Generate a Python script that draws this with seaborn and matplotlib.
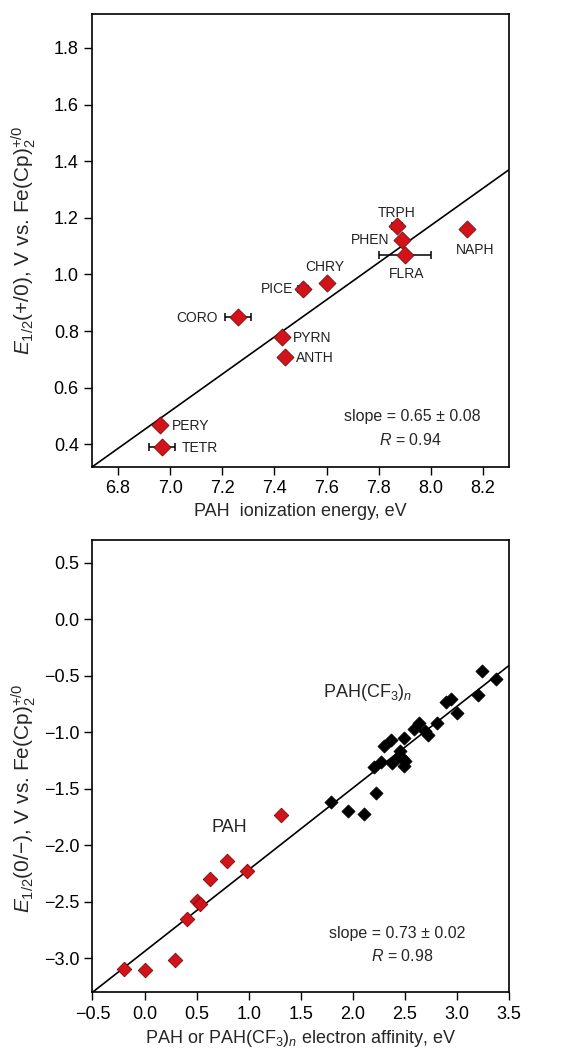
import numpy as np
import pandas as pd
import matplotlib
matplotlib.use("Agg")
import matplotlib.pyplot as plt
import seaborn as sns

# ---------------- data: top panel ----------------
top_names = ["TRPH", "PHEN", "FLRA", "NAPH", "CHRY", "PICE", "CORO", "PYRN", "ANTH", "PERY", "TETR"]
top_ie = [7.87, 7.89, 7.90, 8.14, 7.60, 7.51, 7.26, 7.43, 7.44, 6.96, 6.97]
top_e = [1.17, 1.12, 1.07, 1.16, 0.97, 0.95, 0.85, 0.78, 0.71, 0.47, 0.39]
top_xerr = [0.02, 0.0, 0.10, 0.0, 0.0, 0.02, 0.05, 0.0, 0.0, 0.0, 0.05]
top_fit_x = [6.70, 8.30]
top_fit_y = [0.32, 1.37]
top_xticks = [6.8, 7.0, 7.2, 7.4, 7.6, 7.8, 8.0, 8.2]
top_yticks = [0.4, 0.6, 0.8, 1.0, 1.2, 1.4, 1.6, 1.8]

# ---------------- data: bottom panel ----------------
pah_ea = [-0.20, 0.00, 0.29, 0.41, 0.50, 0.53, 0.63, 0.79, 0.98, 1.31]
pah_e = [-3.09, -3.10, -3.01, -2.65, -2.49, -2.52, -2.30, -2.14, -2.23, -1.73]
cf3_ea = [1.79, 1.95, 2.11, 2.22, 2.20, 2.27, 2.30, 2.37, 2.38, 2.43, 2.45, 2.47,
          2.49, 2.49, 2.50, 2.59, 2.64, 2.69, 2.72, 2.81, 2.90, 2.94, 3.00, 3.20, 3.24, 3.38]
cf3_e = [-1.62, -1.70, -1.72, -1.54, -1.31, -1.26, -1.12, -1.07, -1.27, -1.22, -1.17, -1.23,
         -1.30, -1.05, -1.25, -0.97, -0.92, -0.99, -1.02, -0.92, -0.73, -0.71, -0.83, -0.67, -0.46, -0.53]
bot_fit_x = [-0.50, 3.50]
bot_fit_y = [-3.30, -0.41]
bot_xticks = [-0.5, 0.0, 0.5, 1.0, 1.5, 2.0, 2.5, 3.0, 3.5]
bot_yticks = [-3.0, -2.5, -2.0, -1.5, -1.0, -0.5, 0.0, 0.5]

# ---------------- style ----------------
sns.set_style("ticks")
plt.rcParams["font.family"] = ["Liberation Sans", "DejaVu Sans"]
plt.rcParams["mathtext.fontset"] = "custom"
plt.rcParams["mathtext.rm"] = "Liberation Sans"
plt.rcParams["mathtext.it"] = "Liberation Sans:italic"
plt.rcParams["mathtext.bf"] = "Liberation Sans:bold"
plt.rcParams["axes.unicode_minus"] = True

RED = "#d2141a"
RED_EDGE = "#7a0a0a"

fig = plt.figure(figsize=(5.69, 10.57), dpi=100)
ax1 = fig.add_axes([0.1617, 0.5582, 0.7329, 0.4286])
ax2 = fig.add_axes([0.1625, 0.0612, 0.7320, 0.4279])

label_offsets = {  # pixels (dx, dy), alignment
    "TRPH": (0, 13, "center"),
    "PHEN": (-13, 0, "right"),
    "FLRA": (2, -19, "center"),
    "NAPH": (8, -21, "center"),
    "CHRY": (-2, 16, "center"),
    "PICE": (-10, 0, "right"),
    "CORO": (-20, -1, "right"),
    "PYRN": (11, -1, "left"),
    "ANTH": (11, -1, "left"),
    "PERY": (12, -1, "left"),
    "TETR": (19, -1, "left"),
}

# ---------------- top panel ----------------
df_top = pd.DataFrame({"name": top_names, "ie": top_ie, "e": top_e, "xerr": top_xerr})
ax1.plot(top_fit_x, top_fit_y, color="black", lw=1.2, zorder=1)
eb = df_top[df_top["xerr"] > 0]
ax1.errorbar(eb["ie"], eb["e"], xerr=eb["xerr"], fmt="none", ecolor="black",
             elinewidth=1.1, capsize=3, capthick=1.1, zorder=2)
sns.scatterplot(data=df_top, x="ie", y="e", marker="D", s=75, color=RED,
                edgecolor=RED_EDGE, linewidth=0.6, zorder=3, ax=ax1, legend=False)
for _, r in df_top.iterrows():
    dx, dy, ha = label_offsets[r["name"]]
    ax1.annotate(r["name"], (r["ie"], r["e"]), xytext=(dx, dy), textcoords="offset pixels",
                 ha=ha, va="center", fontsize=10, color="#222222")

ax1.set_xlim(6.7, 8.3)
ax1.set_ylim(0.32, 1.92)
ax1.set_xticks(top_xticks)
ax1.set_yticks(top_yticks)
ax1.set_xticklabels([f"{v:.1f}" for v in top_xticks])
ax1.set_yticklabels([f"{v:.1f}" for v in top_yticks])
ax1.set_xlabel("PAH  ionization energy, eV", fontsize=13, labelpad=4)
ax1.set_ylabel(r"$E_{1/2}$(+/0), V vs. Fe(Cp)$\mathregular{_2^{+/0}}$", fontsize=15)
ax1.yaxis.set_label_coords(-0.13, 0.50)
ax1.text(7.93, 0.50, "slope = 0.65 ± 0.08", ha="center", va="center", fontsize=11.5)
ax1.text(7.92, 0.414, r"$R$ = 0.94", ha="center", va="center", fontsize=11.5)

# ---------------- bottom panel ----------------
df_pah = pd.DataFrame({"ea": pah_ea, "e": pah_e})
df_cf3 = pd.DataFrame({"ea": cf3_ea, "e": cf3_e})
ax2.plot(bot_fit_x, bot_fit_y, color="black", lw=1.2, zorder=1)
sns.scatterplot(data=df_pah, x="ea", y="e", marker="D", s=55, color=RED,
                edgecolor=RED_EDGE, linewidth=0.6, zorder=3, ax=ax2, legend=False)
sns.scatterplot(data=df_cf3, x="ea", y="e", marker="D", s=45, color="black",
                edgecolor="black", linewidth=0.5, zorder=3, ax=ax2, legend=False)
ax2.text(1.71, -0.65, r"PAH(CF$\mathregular{_3}$)$_n$", ha="left", va="center", fontsize=13)
ax2.text(0.81, -1.84, "PAH", ha="center", va="center", fontsize=13)
ax2.text(2.43, -2.78, "slope = 0.73 ± 0.02", ha="center", va="center", fontsize=11.5)
ax2.text(2.47, -2.98, r"$R$ = 0.98", ha="center", va="center", fontsize=11.5)

ax2.set_xlim(-0.5, 3.5)
ax2.set_ylim(-3.3, 0.7)
ax2.set_xticks(bot_xticks)
ax2.set_yticks(bot_yticks)
ax2.set_xticklabels([f"{v:.1f}".replace("-", "\u2212") for v in bot_xticks])
ax2.set_yticklabels([f"{v:.1f}".replace("-", "\u2212") for v in bot_yticks])
ax2.set_xlabel(r"PAH or PAH(CF$\mathregular{_3}$)$_n$ electron affinity, eV", fontsize=13, labelpad=4)
ax2.set_ylabel(r"$E_{1/2}$(0/−), V vs. Fe(Cp)$\mathregular{_2^{+/0}}$", fontsize=15)
ax2.yaxis.set_label_coords(-0.13, 0.43)

for ax in (ax1, ax2):
    for sp in ax.spines.values():
        sp.set_visible(True)
        sp.set_linewidth(1.2)
        sp.set_color("black")
    ax.tick_params(axis="both", which="major", direction="out", length=6, width=1.0,
                   labelsize=13, colors="black", top=False, right=False)
    ax.grid(False)

fig.savefig("out.png", dpi=100)
